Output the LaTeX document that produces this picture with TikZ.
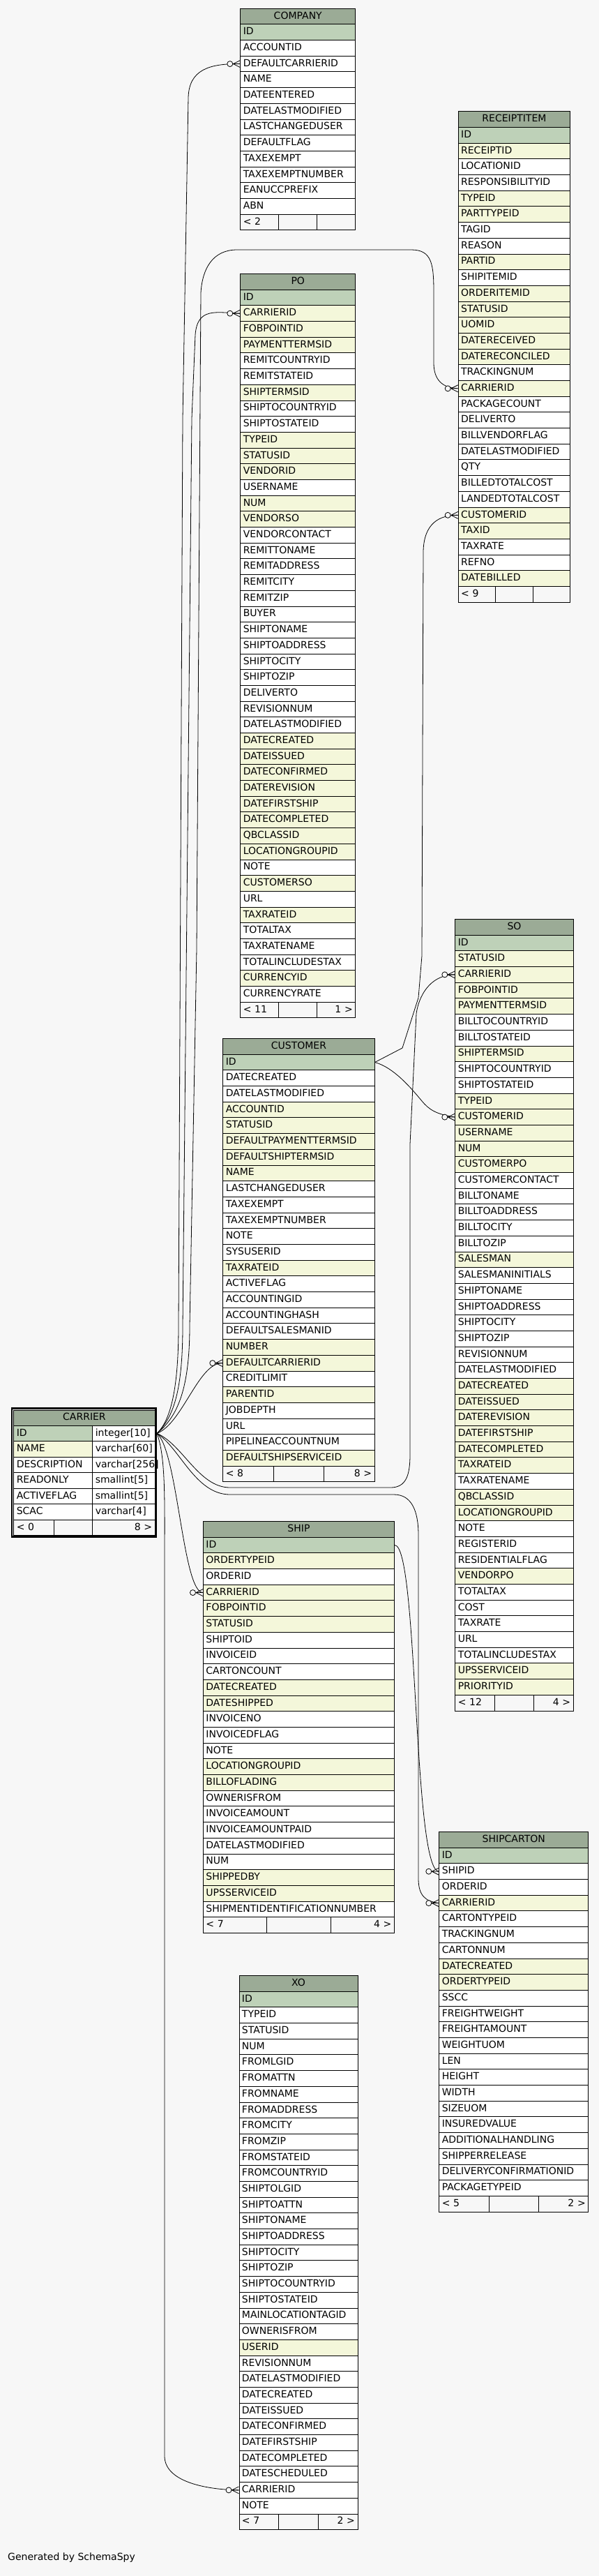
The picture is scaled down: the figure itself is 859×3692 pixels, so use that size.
\documentclass[tikz,border=0pt]{standalone}
\usepackage{fontspec}
\setmainfont{DejaVu Sans}
\usetikzlibrary{calc}
\definecolor{bg}{HTML}{F7F7F7}
\definecolor{hdr}{HTML}{9BAB96}
\definecolor{pk}{HTML}{BED1B8}
\definecolor{ix}{HTML}{F4F7DA}
\definecolor{nm}{HTML}{FFFFFF}
\tikzset{
  cellbox/.style={draw=black, line width=0.9pt, inner xsep=4pt, inner ysep=0pt,
    minimum height=#1, anchor=north west, font=\fontsize{14}{16}\selectfont,
    align=left, text height=10.2pt, text depth=2.9pt},
  cellbox/.default=22.69pt,
  conn/.style={draw=black, line width=0.8pt},
}
\def\rh{22.69}
% #1 id, #2 title, #3 x, #4 y, #5 width, #6 rows, #7 count, #8 foot left, #9 foot right
\newcommand{\dbtable}[9]{%
  \pgfmathsetmacro\tw{#5-8}%
  \pgfmathsetmacro\fw{#5/3}%
  \pgfmathsetmacro\ftw{#5/3-8}%
  \node[cellbox, fill=hdr, text width=\tw pt, align=center] (#1) at (#3,#4) {#2};
  \foreach \txt/\kind [count=\i] in {#6} {
    \node[cellbox, fill=\kind, text width=\tw pt] (#1-\i) at (#3,{#4+\i*\rh}) {\txt};
  }
  \node[cellbox, fill=bg, text width=\ftw pt] (#1-fl) at (#3,{#4+(#7+1)*\rh}) {#8};
  \node[cellbox, fill=bg, text width=\ftw pt] (#1-fm) at ({#3+\fw},{#4+(#7+1)*\rh}) {};
  \node[cellbox, fill=bg, text width=\ftw pt, align=right] (#1-fr) at ({#3+2*\fw},{#4+(#7+1)*\rh}) {#9};
}
\newcommand{\crowW}[1]{%
  \draw[conn] ($(#1)+(-10,0)$) -- ($(#1)+(0,-5)$)
              ($(#1)+(-10,0)$) -- (#1)
              ($(#1)+(-10,0)$) -- ($(#1)+(0,5)$);
  \draw[conn, fill=bg] ($(#1)+(-14.5,0)$) circle (4);
}
\begin{document}
\begin{tikzpicture}[x=1pt,y=-1pt]
\useasboundingbox (0,0) rectangle (859,3692);
\fill[bg] (0,0) rectangle (859,3692);

\dbtable{company}{COMPANY}{344.3}{11.7}{165}{ID/pk, ACCOUNTID/nm, DEFAULTCARRIERID/nm, NAME/nm, DATEENTERED/nm, DATELASTMODIFIED/nm, LASTCHANGEDUSER/nm, DEFAULTFLAG/nm, TAXEXEMPT/nm, TAXEXEMPTNUMBER/nm, EANUCCPREFIX/nm, ABN/nm}{12}{< 2}{}

\dbtable{receipt}{RECEIPTITEM}{656.7}{159.3}{160.6}{ID/pk, RECEIPTID/ix, LOCATIONID/nm, RESPONSIBILITYID/nm, TYPEID/ix, PARTTYPEID/ix, TAGID/nm, REASON/nm, PARTID/ix, SHIPITEMID/nm, ORDERITEMID/ix, STATUSID/ix, UOMID/ix, DATERECEIVED/ix, DATERECONCILED/ix, TRACKINGNUM/nm, CARRIERID/ix, PACKAGECOUNT/nm, DELIVERTO/nm, BILLVENDORFLAG/nm, DATELASTMODIFIED/nm, QTY/nm, BILLEDTOTALCOST/nm, LANDEDTOTALCOST/nm, CUSTOMERID/ix, TAXID/ix, TAXRATE/nm, REFNO/nm, DATEBILLED/ix}{29}{< 9}{}

\dbtable{po}{PO}{344.3}{392}{165}{ID/pk, CARRIERID/ix, FOBPOINTID/ix, PAYMENTTERMSID/ix, REMITCOUNTRYID/nm, REMITSTATEID/nm, SHIPTERMSID/ix, SHIPTOCOUNTRYID/nm, SHIPTOSTATEID/nm, TYPEID/ix, STATUSID/ix, VENDORID/ix, USERNAME/nm, NUM/ix, VENDORSO/ix, VENDORCONTACT/nm, REMITTONAME/nm, REMITADDRESS/nm, REMITCITY/nm, REMITZIP/nm, BUYER/nm, SHIPTONAME/nm, SHIPTOADDRESS/nm, SHIPTOCITY/nm, SHIPTOZIP/nm, DELIVERTO/nm, REVISIONNUM/nm, DATELASTMODIFIED/nm, DATECREATED/ix, DATEISSUED/ix, DATECONFIRMED/ix, DATEREVISION/ix, DATEFIRSTSHIP/ix, DATECOMPLETED/ix, QBCLASSID/ix, LOCATIONGROUPID/ix, NOTE/nm, CUSTOMERSO/ix, URL/nm, TAXRATEID/ix, TOTALTAX/nm, TAXRATENAME/nm, TOTALINCLUDESTAX/nm, CURRENCYID/ix, CURRENCYRATE/nm}{45}{< 11}{1 >}

\dbtable{so}{SO}{652.3}{1317}{169.4}{ID/pk, STATUSID/ix, CARRIERID/ix, FOBPOINTID/ix, PAYMENTTERMSID/ix, BILLTOCOUNTRYID/nm, BILLTOSTATEID/nm, SHIPTERMSID/ix, SHIPTOCOUNTRYID/nm, SHIPTOSTATEID/nm, TYPEID/ix, CUSTOMERID/ix, USERNAME/ix, NUM/ix, CUSTOMERPO/ix, CUSTOMERCONTACT/nm, BILLTONAME/nm, BILLTOADDRESS/nm, BILLTOCITY/nm, BILLTOZIP/nm, SALESMAN/ix, SALESMANINITIALS/nm, SHIPTONAME/nm, SHIPTOADDRESS/nm, SHIPTOCITY/nm, SHIPTOZIP/nm, REVISIONNUM/nm, DATELASTMODIFIED/nm, DATECREATED/ix, DATEISSUED/ix, DATEREVISION/ix, DATEFIRSTSHIP/ix, DATECOMPLETED/ix, TAXRATEID/ix, TAXRATENAME/nm, QBCLASSID/ix, LOCATIONGROUPID/ix, NOTE/nm, REGISTERID/nm, RESIDENTIALFLAG/nm, VENDORPO/ix, TOTALTAX/nm, COST/nm, TAXRATE/nm, URL/nm, TOTALINCLUDESTAX/nm, UPSSERVICEID/ix, PRIORITYID/ix}{48}{< 12}{4 >}

\dbtable{cust}{CUSTOMER}{319.3}{1488}{217.4}{ID/pk, DATECREATED/nm, DATELASTMODIFIED/nm, ACCOUNTID/ix, STATUSID/ix, DEFAULTPAYMENTTERMSID/ix, DEFAULTSHIPTERMSID/ix, NAME/ix, LASTCHANGEDUSER/nm, TAXEXEMPT/nm, TAXEXEMPTNUMBER/nm, NOTE/nm, SYSUSERID/nm, TAXRATEID/ix, ACTIVEFLAG/nm, ACCOUNTINGID/nm, ACCOUNTINGHASH/nm, DEFAULTSALESMANID/nm, NUMBER/ix, DEFAULTCARRIERID/ix, CREDITLIMIT/nm, PARENTID/ix, JOBDEPTH/nm, URL/nm, PIPELINEACCOUNTNUM/nm, DEFAULTSHIPSERVICEID/ix}{26}{< 8}{8 >}

\dbtable{ship}{SHIP}{291}{2180}{274}{ID/pk, ORDERTYPEID/ix, ORDERID/nm, CARRIERID/ix, FOBPOINTID/ix, STATUSID/ix, SHIPTOID/nm, INVOICEID/nm, CARTONCOUNT/nm, DATECREATED/ix, DATESHIPPED/ix, INVOICENO/nm, INVOICEDFLAG/nm, NOTE/nm, LOCATIONGROUPID/ix, BILLOFLADING/ix, OWNERISFROM/nm, INVOICEAMOUNT/nm, INVOICEAMOUNTPAID/nm, DATELASTMODIFIED/nm, NUM/nm, SHIPPEDBY/ix, UPSSERVICEID/ix, SHIPMENTIDENTIFICATIONNUMBER/nm}{24}{< 7}{4 >}

\dbtable{carton}{SHIPCARTON}{629.3}{2625}{214}{ID/pk, SHIPID/nm, ORDERID/nm, CARRIERID/ix, CARTONTYPEID/nm, TRACKINGNUM/nm, CARTONNUM/nm, DATECREATED/ix, ORDERTYPEID/ix, SSCC/nm, FREIGHTWEIGHT/nm, FREIGHTAMOUNT/nm, WEIGHTUOM/nm, LEN/nm, HEIGHT/nm, WIDTH/nm, SIZEUOM/nm, INSUREDVALUE/nm, ADDITIONALHANDLING/nm, SHIPPERRELEASE/nm, DELIVERYCONFIRMATIONID/nm, PACKAGETYPEID/nm}{22}{< 5}{2 >}

\dbtable{xo}{XO}{342.5}{2831}{170}{ID/pk, TYPEID/nm, STATUSID/nm, NUM/nm, FROMLGID/nm, FROMATTN/nm, FROMNAME/nm, FROMADDRESS/nm, FROMCITY/nm, FROMZIP/nm, FROMSTATEID/nm, FROMCOUNTRYID/nm, SHIPTOLGID/nm, SHIPTOATTN/nm, SHIPTONAME/nm, SHIPTOADDRESS/nm, SHIPTOCITY/nm, SHIPTOZIP/nm, SHIPTOCOUNTRYID/nm, SHIPTOSTATEID/nm, MAINLOCATIONTAGID/nm, OWNERISFROM/nm, USERID/ix, REVISIONNUM/nm, DATELASTMODIFIED/nm, DATECREATED/nm, DATEISSUED/nm, DATECONFIRMED/nm, DATEFIRSTSHIP/nm, DATECOMPLETED/nm, DATESCHEDULED/nm, CARRIERID/nm, NOTE/nm}{33}{< 7}{2 >}

% CARRIER (two columns, double border)
\draw[line width=2.6pt] (16.8,2018.6) rectangle (223.2,2202.2);
\node[cellbox=22pt, fill=hdr, text width=194.4pt, align=center] (car) at (19.3,2020.7) {CARRIER};
\foreach \nm/\ty/\kind [count=\i] in {ID/integer[10]/pk, NAME/varchar[60]/ix, DESCRIPTION/varchar[256]/nm, READONLY/smallint[5]/nm, ACTIVEFLAG/smallint[5]/nm, SCAC/varchar[4]/nm} {
  \node[cellbox=22.5pt, fill=\kind, text width=105pt] (car-\i) at (19.3,{2020.2+\i*22.5}) {\nm};
  \node[cellbox=22.5pt, fill=nm, text width=81.4pt] (cart-\i) at (132.3,{2020.2+\i*22.5}) {\ty};
}
\node[cellbox=22.5pt, fill=bg, text width=49.4pt] (car-fl) at (19.3,2177.7) {< 0};
\node[cellbox=22.5pt, fill=bg, text width=47.6pt] (car-fm) at (76.7,2177.7) {};
\node[cellbox=22.5pt, fill=bg, text width=81.4pt, align=right] (car-fr) at (132.3,2177.7) {8 >};

\coordinate (cid) at ($(cart-1.east)+(2.5,0)$);

% connectors from CARRIER.ID
\draw[conn] (cid) .. controls (245,2035) and (256,1990) .. (256,1900) -- (262,600) -- (270,140)
  .. controls (271,100) and (300,91) .. (company-3.west);
\draw[conn] (cid) .. controls (250,2030) and (262,1990) .. (262,1900) -- (275,600) -- (280,480)
  .. controls (283,440) and (310,448) .. (po-2.west);
\draw[conn] (cid) .. controls (255,2030) and (272,1990) .. (272,1900) -- (282,1360) -- (288,420)
  .. controls (290,385) and (305,358) .. (340,358) -- (590,358)
  .. controls (620,358) and (622,380) .. (622,420) -- (622,520)
  .. controls (622,545) and (635,556) .. (receipt-17.west);
\draw[conn] (cid) .. controls (262,2070) and (285,2132) .. (330,2132) -- (560,2132)
  .. controls (582,2132) and (588,2115) .. (588,2085) -- (588,1640) -- (597,1453)
  .. controls (600,1430) and (615,1397) .. (so-3.west);
\draw[conn] (cid) .. controls (262,2040) and (285,1952) .. (cust-20.west);
\draw[conn] (cid) .. controls (255,2080) and (262,2282) .. (ship-4.west);
\draw[conn] (cid) .. controls (258,2075) and (280,2142) .. (330,2142) -- (565,2142)
  .. controls (590,2142) and (600,2165) .. (600,2200) -- (600,2692)
  .. controls (600,2717) and (610,2725) .. (carton-4.west);
\draw[conn] (cid) .. controls (238,2090) and (236,2150) .. (236,2250) -- (236,3520)
  .. controls (236,3555) and (290,3568) .. (xo-32.west);

% CUSTOMER.ID
\draw[conn] (cust-1.east) .. controls (565,1530) and (590,1560) .. (605,1578)
  .. controls (615,1590) and (625,1597) .. (so-12.west);
\draw[conn] (cust-1.east) -- (577,1502) -- (600,1430) -- (605,1370) -- (607,790)
  .. controls (608,750) and (630,738) .. (receipt-25.west);
% SHIP.ID
\draw[conn] (ship-1.east) .. controls (600,2214) and (592,2680) .. (carton-2.west);

\crowW{company-3.west}
\crowW{receipt-17.west}
\crowW{po-2.west}
\crowW{so-3.west}
\crowW{cust-20.west}
\crowW{ship-4.west}
\crowW{carton-4.west}
\crowW{xo-32.west}
\crowW{so-12.west}
\crowW{receipt-25.west}
\crowW{carton-2.west}

\node[anchor=west, font=\fontsize{14}{16}\selectfont, inner sep=0pt] (gen) at (11,3666) {Generated by SchemaSpy};
\end{tikzpicture}
\end{document}
